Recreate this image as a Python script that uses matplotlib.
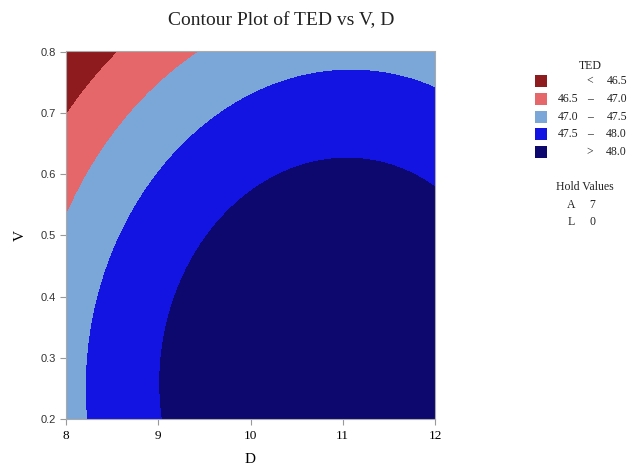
import numpy as np
import matplotlib
matplotlib.use("Agg")
import matplotlib.pyplot as plt
from matplotlib.patches import Rectangle

# fitted response surface for TED (hold values A = 7, L = 0)
terms = ["Constant", "D", "V", "D*D", "V*V", "D*V"]
coefs = [32.189983, 2.946892, 1.389131, -0.135801, -4.164968, 0.085368]

d_range = [8, 12]
v_range = [0.2, 0.8]
levels = [46.5, 47.0, 47.5, 48.0]
legend_lo = ["", "46.5", "47.0", "47.5", ""]
legend_hi = ["46.5", "47.0", "47.5", "48.0", "48.0"]
legend_op = ["<", "\u2013", "\u2013", "\u2013", ">"]
colors = ["#8e1b1e", "#e5676a", "#7ba6d8", "#1313e2", "#0c086e"]
hold_names = ["A", "L"]
hold_vals = ["7", "0"]

d = np.linspace(d_range[0], d_range[1], 400)
v = np.linspace(v_range[0], v_range[1], 400)
D, V = np.meshgrid(d, v)
basis = [np.ones_like(D), D, V, D * D, V * V, D * V]
ted = sum(c * b for c, b in zip(coefs, basis))

W, H = 640, 469
fig = plt.figure(figsize=(6.4, 4.69), dpi=100)
ax = fig.add_axes([66 / W, 50 / H, 369 / W, 367.5 / H])

bounds = [ted.min() - 1] + levels + [ted.max() + 1]
ax.contourf(D, V, ted, levels=bounds, colors=colors)

ax.set_xlim(d_range)
ax.set_ylim(v_range)
ax.set_xticks([8, 9, 10, 11, 12])
ax.set_yticks([0.2, 0.3, 0.4, 0.5, 0.6, 0.7, 0.8])
ax.set_yticklabels(["0.2", "0.3", "0.4", "0.5", "0.6", "0.7", "0.8"])
for lab in ax.get_xticklabels():
    lab.set_family("Liberation Serif")
    lab.set_fontsize(9.5)
for lab in ax.get_yticklabels():
    lab.set_family("Liberation Sans")
    lab.set_fontsize(8)
    lab.set_color("#333333")
ax.tick_params(length=4, width=0.8, color="#999999", pad=3)
ax.tick_params(axis="x", pad=4)
for s in ax.spines.values():
    s.set_color("#aaaaaa")
    s.set_linewidth(0.8)

ax.set_xlabel("D", family="Liberation Serif", fontsize=11, labelpad=8)
ax.set_ylabel("V", family="Liberation Serif", fontsize=11, labelpad=10)

fig.text(281 / W, 1 - 21 / H, "Contour Plot of TED vs V, D", family="Liberation Serif",
         fontsize=14, ha="center", va="center", color="#222222")

def fx(px):
    return px / W

def fy(py):
    return 1 - py / H

lfont = dict(family="Liberation Serif", fontsize=8.5, color="#222222", va="center")
fig.text(fx(590), fy(66), "TED", ha="center", **lfont)
for i in range(len(colors)):
    yc = 81.5 + i * 17.6
    fig.add_artist(Rectangle((fx(535), fy(yc + 6)), 12 / W, 12 / H,
                             transform=fig.transFigure, facecolor=colors[i], edgecolor="none"))
    if legend_lo[i]:
        fig.text(fx(578), fy(yc), legend_lo[i], ha="right", **lfont)
    fig.text(fx(590), fy(yc), legend_op[i], ha="center", **lfont)
    fig.text(fx(627), fy(yc), legend_hi[i], ha="right", **lfont)

fig.text(fx(585), fy(187), "Hold Values", ha="center", **lfont)
for i in range(len(hold_names)):
    fig.text(fx(571), fy(205 + i * 17), hold_names[i], ha="center", **lfont)
    fig.text(fx(592), fy(205 + i * 17), hold_vals[i], ha="center", **lfont)

fig.savefig("out.png", dpi=100)
